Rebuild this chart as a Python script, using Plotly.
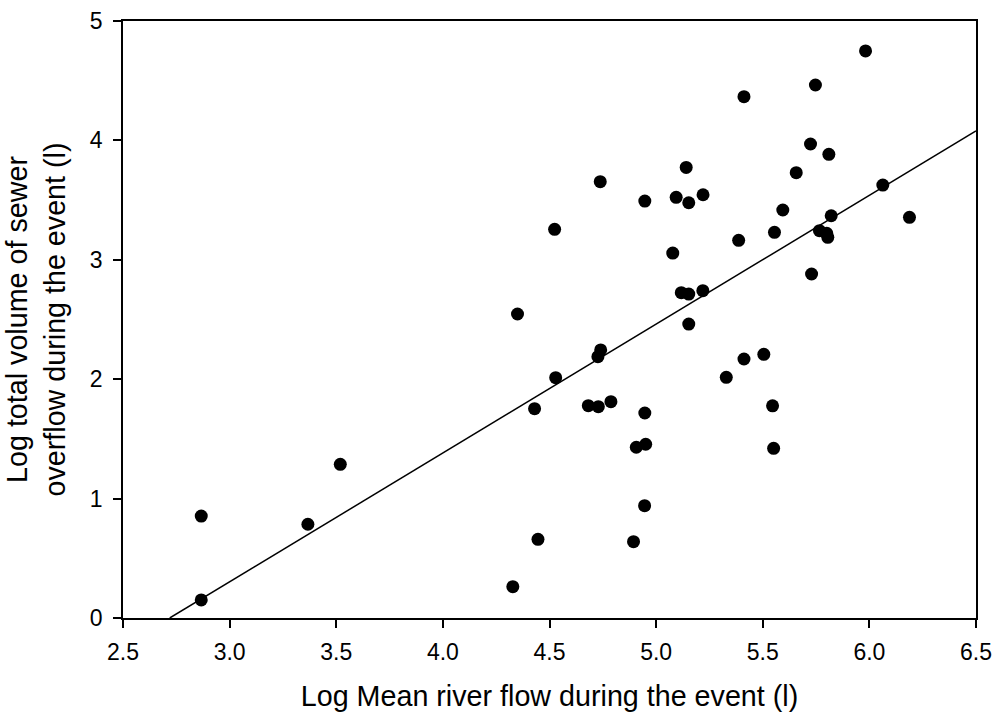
import plotly.graph_objects as go

# Data
log_river_flow = [2.867, 2.867, 3.367, 3.519, 4.328, 4.350, 4.430, 4.446, 4.524, 4.529,
                  4.682, 4.729, 4.727, 4.740, 4.738, 4.788, 4.894, 4.907, 4.946, 4.947,
                  4.951, 4.947, 5.078, 5.094, 5.118, 5.141, 5.153, 5.153, 5.153, 5.219,
                  5.220, 5.329, 5.387, 5.412, 5.412, 5.505, 5.546, 5.551, 5.555, 5.594,
                  5.657, 5.724, 5.729, 5.747, 5.766, 5.800, 5.805, 5.810, 5.821, 5.982,
                  6.063, 6.188]
log_overflow = [0.151, 0.854, 0.785, 1.287, 0.262, 2.546, 1.753, 0.659, 3.255, 2.013,
                1.778, 1.770, 2.189, 2.245, 3.654, 1.812, 0.639, 1.430, 0.941, 1.717,
                1.455, 3.492, 3.056, 3.523, 2.725, 3.774, 3.478, 2.713, 2.462, 2.741,
                3.545, 2.016, 3.163, 4.366, 2.169, 2.208, 1.777, 1.421, 3.230, 3.417,
                3.730, 3.970, 2.881, 4.464, 3.244, 3.222, 3.188, 3.883, 3.369, 4.749,
                3.626, 3.356]

fit_slope = 1.079
fit_intercept = -2.934
x_ticks = [2.5, 3.0, 3.5, 4.0, 4.5, 5.0, 5.5, 6.0, 6.5]
y_ticks = [0, 1, 2, 3, 4, 5]

x_range = [2.5, 6.5]
y_range = [0, 5]

# regression line between where it meets y=0 and the right edge
fit_x = [-fit_intercept / fit_slope, x_range[1]]
fit_y = [fit_intercept + fit_slope * v for v in fit_x]

fig = go.Figure()
fig.add_trace(go.Scatter(
    x=fit_x, y=fit_y, mode="lines",
    line=dict(color="black", width=1.5),
    hoverinfo="skip", showlegend=False))
fig.add_trace(go.Scatter(
    x=log_river_flow, y=log_overflow, mode="markers",
    marker=dict(color="black", size=13, line=dict(width=0)),
    showlegend=False))

font_family = "Liberation Sans, Arial, sans-serif"
fig.update_layout(
    width=995, height=718,
    margin=dict(l=123, r=19, t=21, b=100, autoexpand=False),
    plot_bgcolor="white", paper_bgcolor="white",
    font=dict(family=font_family, color="black", size=23),
)
fig.update_xaxes(
    range=x_range, tickvals=x_ticks, ticktext=[f"{v:.1f}" for v in x_ticks],
    showgrid=False, zeroline=False,
    showline=True, linecolor="black", linewidth=1.5, mirror=True,
    ticks="outside", ticklen=8, tickwidth=1.5, tickcolor="black",
    tickfont=dict(size=23), ticklabelstandoff=5,
    title=dict(text="Log Mean river flow during the event (l)", font=dict(size=28.7), standoff=22),
    automargin=False,
)
fig.update_yaxes(
    range=y_range, tickvals=y_ticks, ticktext=[str(v) for v in y_ticks],
    showgrid=False, zeroline=False,
    showline=True, linecolor="black", linewidth=1.5, mirror=True,
    ticks="outside", ticklen=8, tickwidth=1.5, tickcolor="black",
    tickfont=dict(size=23), ticklabelstandoff=6,
    title=dict(text="Log total volume of sewer<br>overflow during the event (l)", font=dict(size=28.7), standoff=16),
    automargin=False,
)

fig.write_html("out.html",
               config={"displayModeBar": False},
               post_script="document.body.style.margin='0';document.body.style.overflow='hidden';")
